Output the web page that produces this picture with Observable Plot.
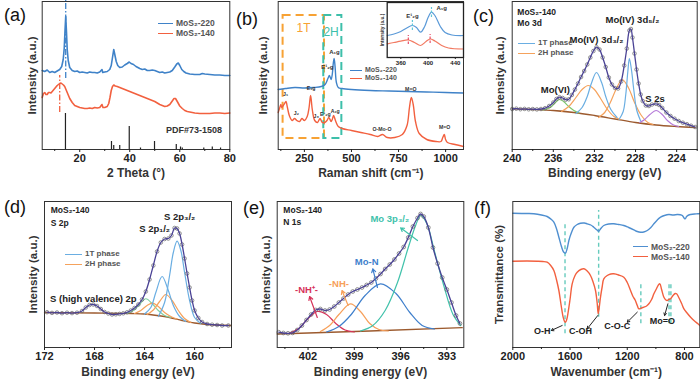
<!DOCTYPE html>
<html><head><meta charset="utf-8">
<script src="https://cdn.jsdelivr.net/npm/d3@7"></script>
<script src="https://cdn.jsdelivr.net/npm/@observablehq/plot@0.6"></script>
<style>
body{margin:0;background:#fff;}
#root{position:relative;width:700px;height:380px;overflow:hidden;font-family:"Liberation Sans",Arial,sans-serif;background:#fff;}
.lab{position:absolute;font-size:18px;line-height:18px;color:#111;}
.leg{position:absolute;font-weight:bold;color:#555;white-space:nowrap;}
.leg div{display:flex;align-items:center;}
.leg i{display:inline-block;height:0;border-top:1.6px solid;margin-right:3px;}
</style></head><body><div id="root"></div><script>
const FONT = '"Liberation Sans", Arial, sans-serif';
const C220 = "#3f82c8", C140 = "#f2603f";
const C1T = "#6aaee2", C2H = "#f5a25c", CENV = "#4a4295", CBG = "#9c5a2e";

// ---------- (a) XRD ----------
const xrd220 = [[5,79],[6,78],[7,79.5],[8,77],[9,78],[10,77],[11,78.5],[12,80],[12.8,83],[13.4,90],[13.8,101],[14.1,118],[14.4,133],[14.7,118],[15,100],[15.4,89],[16,82],[17,79],[18,78],[19,78.5],[20,77],[21,77.5],[22,77],[23,76.5],[24,77.5],[25,77],[26,77],[27,76.5],[28,77.5],[28.9,80],[29.2,77],[30,77.5],[31,78],[32,80],[32.6,84],[33.1,92],[33.6,100],[34.1,94],[34.6,88],[35.2,84],[36,82],[37,82.5],[38,84.5],[39,86],[39.8,87.5],[40.5,86],[41.5,85],[42.5,83],[44,81],[45,80],[46,80.5],[47,79],[48,79],[49,79.5],[50,79],[51,78],[52,77],[53,77.5],[54,76.5],[55,77],[56,77.5],[57,79],[58,82.5],[58.8,85.5],[59.4,86.5],[60,84],[60.8,80],[61.6,78],[62.5,76.5],[64,75.5],[66,75],[68,75],[69,76],[70,75.5],[72,75],[74,74.5],[76,74.5],[78,74],[80,74]];
const xrd140 = [[5,52],[5.5,56],[6,57],[6.5,55],[7,55],[7.5,57],[8,57],[8.5,56.5],[9,58],[9.5,59.5],[10,61],[10.5,62.5],[11,64],[11.5,65],[12,66],[12.5,66.5],[13,65.5],[13.5,64.5],[14,63],[14.5,60],[15,57],[15.5,54],[16,51],[16.5,49],[17,47],[18,44],[19,43],[20,42],[21,41.5],[22,41],[23,41],[24,41.5],[25,41],[26,42],[27,41.5],[28,42],[28.9,45],[29.3,42],[30,42],[31,43],[31.6,46],[32.1,52],[32.6,59],[33.1,63],[33.6,64.5],[34.2,63.5],[35,63],[36,62],[37,61],[38,60],[39,59],[40,58],[41,57],[42,56],[43,55],[44,54],[45,53],[46,52],[47,51],[48,50],[49,49],[50,48],[51,46.5],[52,45],[53,44],[54,43],[55,43.5],[56,45],[57,48.5],[57.7,51],[58.3,51],[59,48],[60,43.5],[61,41],[62,39],[63,38],[64,37.5],[65,37],[66,36.5],[68,36],[70,36],[72,36],[74,36.5],[76,36.5],[78,36],[80,36.5]];
const pdfPos = [14.3,32.7,33.6,36.0,39.8,44.3,49.9,58.6,60.3,61.0,69.6,73.0,76.3];
const pdfInt = [36,8,4,4,23,1.5,8,5,2.5,1.5,1.5,2.5,1.5];
const xrdGuides = [[14.4,71,149,C220],[12,37,74,C140]];
const xrdTicks = [20,40,60,80], xrdMinor = [10,30,50,70];

// ---------- (b) Raman ----------
const raman220 = [[111,58],[150,59],[200,60],[250,59.5],[300,60],[340,61],[360,63],[375,69],[383,72],[392,68],[398,73],[404,85],[408,89],[413,81],[420,65],[430,60],[450,59],[500,58],[600,57],[700,56.5],[800,56],[900,55.5],[1000,55],[1095,54.5]];
const raman140 = [[111,35],[118,39],[125,43],[130,40],[138,42],[145,44],[152,46],[160,40],[170,32],[185,27],[198,29],[210,27],[225,26],[237,29],[250,27],[265,31],[275,40],[283,52],[292,38],[305,27],[320,25],[333,29],[345,25],[358,25],[370,27],[380,30],[392,26],[398,28],[405,32],[415,27],[430,21],[450,19],[500,17],[550,15],[600,13],[640,11],[665,13],[690,10],[730,10],[770,13],[795,22],[808,40],[818,50],[828,43],[840,26],[860,14],[900,8],[950,6],[975,6],[985,10],[993,13],[1000,8],[1010,5],[1050,3],[1095,1]];
const ramanBoxes = [[137,357,9,132,"#f7a234"],[353,449,9,132,"#3dbfaa"]];
const ramanBoxLabels = [[246,119,"1T","#f7a234"],[392,115,"2H","#3dbfaa"]];
const ramanLabels220 = [[372,80,"E¹₂g"],[410,95,"A₁g"]];
const ramanLabels140 = [[150,53,"J₁"],[208,34,"J₂"],[286,59,"E₁g"],[313,31,"J₃"],[361,33,"E¹₂g"],[414,36,"A₁g"],[662,18,"O-Mo-O"],[815,58,"M=O"],[995,20,"M=O"]];
const ramanTicks = [250,500,750,1000], ramanMinor = [125,375,625,875];
// inset
const inset220 = [[340,22],[350,23.5],[360,26],[370,30],[377,32],[383,30],[389,25.3],[395,31],[400,40],[405,45.3],[410,42],[418,31],[425,25],[435,22.5],[452,22]];
const inset140 = [[340,13.7],[350,15],[360,16.3],[371,17.5],[380,15],[389,12],[397,16],[403,18.5],[410,16.5],[420,12],[430,9.5],[452,8.5]];
const insetMarks = [[377,27,37,"#62c6d8"],[405,40,50,"#62c6d8"],[371,13,22,"#e8506a"],[403,14,23,"#e8506a"]];
const insetLabels = [[377,41,"E¹₂g"],[420,49,"A₁g"]];
const insetTicks = [360,400,440];

// ---------- (c) Mo 3d ----------
const mo3dData = [[240,40.5],[239.6,40.8],[239.2,40.3],[238.8,40.6],[238.4,40.2],[238,40.4],[237.6,40.1],[237.2,40.5],[236.8,41.3],[236.4,43.5],[236,47],[235.7,50.5],[235.4,52.3],[235.1,51.5],[234.8,49.8],[234.5,50.2],[234.2,54.5],[233.9,60],[233.6,66],[233.3,72.5],[233,78.5],[232.7,85],[232.4,92],[232.1,98.5],[231.8,102.3],[231.5,100],[231.2,92],[230.9,82.5],[230.6,72],[230.3,65],[230,61.5],[229.7,61],[229.4,68],[229.1,84],[228.85,101],[228.6,119],[228.45,120.5],[228.3,112],[228.1,96],[227.9,80],[227.7,66],[227.5,55],[227.3,48.5],[227,44],[226.7,43.5],[226.4,45],[226,45.7],[225.7,44.5],[225.4,41.5],[225,37],[224.6,33.5],[224.2,30.8],[223.8,28.5],[223.4,26.8],[223,25.3],[222.6,23.8],[222.2,22.5]];
const mo3dBg = [[240,40.7],[238,40],[236,39],[234,37],[232,34],[230,30.5],[228,27],[226,24.5],[224,23],[222.2,22]];
const mo3dVI = [[237,39.5],[236.3,42],[235.8,47],[235.4,50],[235,48],[234.5,43],[234,39],[233.5,36.5]];
const mo3d1Ta = [[233.8,36],[233.2,42],[232.7,53],[232.3,66],[231.8,77],[231.3,67],[230.9,53],[230.4,40],[229.8,32]];
const mo3d2Ha = [[235.2,38],[234.5,43],[233.8,52],[233.2,60],[232.6,64],[232,60],[231.4,51],[230.8,41],[230.1,33],[229.5,30]];
const mo3d1Tb = [[229.6,30],[229.2,38],[228.95,55],[228.75,78],[228.6,91],[228.4,80],[228.15,58],[227.9,40],[227.5,28.5]];
const mo3d2Hb = [[231.6,32],[231,37],[230.5,46],[229.9,60],[229.3,70],[228.7,62],[228.1,47],[227.5,35],[226.8,27],[226.3,25]];
const mo3dS2s = [[227.6,27],[227.1,30],[226.6,35],[226,39],[225.4,35],[224.9,29],[224.3,24.5],[223.8,23]];
const mo3dLabels = [[231.8,110,"Mo(IV) 3d₃/₂"],[228.3,130,"Mo(IV) 3d₅/₂"],[235.8,60,"Mo(VI)"],[226.1,51,"S 2s"]];
const mo3dTitle = [[239.5,137,"MoS₂-140"],[239.5,126,"Mo 3d"]];
const mo3dTicks = [240,236,232,228,224], mo3dMinor = [238,234,230,226,222];

// ---------- (d) S 2p ----------
const s2pData = [[171.8,35.3],[171.4,34.6],[171,35],[170.6,34.3],[170.2,34.8],[169.8,34.4],[169.4,34.8],[169,36.5],[168.7,40],[168.4,42.5],[168.1,43],[167.8,41.5],[167.5,38.5],[167.2,35.5],[166.9,34],[166.6,33],[166.3,33.2],[166,33.6],[165.7,34.2],[165.4,35.2],[165.1,37],[164.8,39.5],[164.5,43],[164.2,48],[163.9,56],[163.6,68],[163.3,82],[163,96],[162.7,105],[162.4,108.5],[162.1,109],[161.85,112],[161.6,119.5],[161.4,119],[161.2,114],[161,103],[160.8,89],[160.6,74],[160.4,60],[160.2,47],[160,37],[159.7,29.5],[159.4,25.5],[159,23.5],[158.6,22.8],[158.2,22.5],[157.8,22],[157.3,22]];
const s2pBg = [[172,35],[168,34.5],[165,34],[164,33.5],[163,32],[162,30],[161,27],[160,24.5],[159,23],[157.1,22]];
const s2pGreen = [[165.4,34],[164.9,37],[164.4,43],[163.9,48.7],[163.4,44],[162.9,37],[162.4,32],[161.9,30]];
const s2p2Ha = [[164.8,34],[164.3,37],[163.8,42],[163.35,44.3],[162.9,41],[162.4,35],[161.9,31],[161.4,28.5]];
const s2p1Ta = [[164,33.5],[163.5,40],[163.1,55],[162.6,71],[162.1,57],[161.7,42],[161.2,31],[160.7,26]];
const s2p2Hb = [[163.8,33],[163.3,37.5],[162.8,46],[162.3,53],[161.8,47],[161.3,37],[160.8,29],[160.3,25]];
const s2p1Tb = [[162.9,31],[162.4,45],[162,72],[161.7,95],[161.4,106.3],[161.1,97],[160.8,75],[160.4,47],[160,30],[159.5,24]];
const s2pLabels = [[163.2,118.7,"S 2p₁/₂"],[161.2,131,"S 2p₃/₂"],[168.1,48.7,"S (high valence) 2p"]];
const s2pTitle = [[171.5,137,"MoS₂-140"],[171.5,124.7,"S 2p"]];
const s2pTicks = [172,168,164,160], s2pMinor = [170,166,162,158];

// ---------- (e) N 1s ----------
const n1sData = [[403.9,15.3],[403.6,14.5],[403.3,14.2],[403,14.6],[402.7,17.5],[402.4,22],[402.1,27.5],[401.8,33],[401.5,37.5],[401.2,38.5],[400.9,37],[400.6,38],[400.3,41],[400,45],[399.7,49],[399.4,53],[399.1,56],[398.8,58],[398.5,60],[398.2,62.5],[397.9,65],[397.6,69],[397.3,73.5],[397,78.5],[396.7,83],[396.4,88],[396.1,94],[395.8,100.5],[395.5,110],[395.2,121],[394.9,129.5],[394.7,133.5],[394.5,131],[394.2,120],[393.9,100],[393.6,84],[393.3,70],[393,58],[392.7,45],[392.4,32],[392.15,24]];
const n1sBg = [[404,13.5],[398,16.5],[392,19.8]];
const n1sNHp = [[403.2,14.5],[402.6,19],[402,29],[401.4,36],[400.8,33],[400.2,24],[399.6,17.5],[399,15.5]];
const n1sNH = [[401.2,16],[400.6,22],[400,33],[399.25,43.7],[398.6,36],[398,24],[397.4,18],[396.8,16.5]];
const n1sMoN = [[400.8,15.5],[400,21],[399.2,33],[398.3,52],[397.3,63.7],[396.3,54],[395.4,35],[394.6,22],[393.8,18.5]];
const n1sMo3p = [[398.6,16.5],[397.8,22],[397,37],[396.2,65],[395.5,100],[395,123],[394.7,132],[394.3,124],[393.8,96],[393.2,62],[392.6,33],[392.1,22]];
const n1sColors = {NHp:"#d6335a", NH:"#f7a05a", MoN:"#3f7fcc", Mo3p:"#41c2ab"};
const n1sLabels = [[402.1,58,"-NH⁺-",n1sColors.NHp],[400,63.7,"-NH-",n1sColors.NH],[398.2,85.3,"Mo-N",n1sColors.MoN],[396.7,128.7,"Mo 3p₃/₂",n1sColors.Mo3p]];
const n1sArrows = [[401.4,30,401.9,51,n1sColors.NHp],[399.4,42,399.8,57,n1sColors.NH],[397.5,60,397.8,78.7,n1sColors.MoN],[394.9,107,396,119.7,n1sColors.Mo3p]];
const n1sTitle = [[403.6,137,"MoS₂-140"],[403.6,125.3,"N 1s"]];
const n1sTicks = [402,399,396,393], n1sMinor = [403.5,400.5,397.5,394.5];

// ---------- (f) FTIR ----------
const ftir220 = [[2000,134.3],[1900,134],[1853,133.7],[1800,132.5],[1760,131],[1730,128],[1713,125.3],[1695,119],[1678,110.3],[1660,101],[1645,95.5],[1632,94.3],[1620,99],[1608,107],[1590,115],[1573,120.3],[1550,123],[1527,124.3],[1500,124.5],[1480,123.7],[1455,122.5],[1434,120.3],[1415,118],[1399,116.3],[1385,119],[1364,122],[1330,123.5],[1294,123.7],[1260,123],[1224,122],[1190,120],[1154,117.7],[1130,116],[1107,115.3],[1085,115.5],[1060,117],[1035,120],[1014,123.7],[990,127.5],[967,130.3],[940,132],[909,133],[880,132.5],[850,133],[830,132.8],[815,132],[803,129.5],[795,128.7],[785,131],[770,132.5],[757,133],[730,133.5],[706,133.7],[693,134]];
const ftir140 = [[2000,86.3],[1900,86.5],[1829,86.3],[1790,86],[1760,85.3],[1735,82],[1713,77],[1695,68],[1678,57],[1662,42],[1648,30.3],[1638,26],[1631,25.3],[1623,28],[1615,33.7],[1600,48],[1585,63.7],[1565,72],[1550,75.3],[1525,78],[1503,78.7],[1480,76.5],[1457,72],[1440,66],[1422,57],[1410,44],[1403,33.7],[1396,40],[1387,50.3],[1375,61],[1364,68.7],[1340,72],[1315,73.5],[1294,73.7],[1260,72.5],[1224,70.3],[1200,65],[1177,57],[1160,51],[1145,47.5],[1130,42],[1119,38.7],[1100,39.5],[1084,40.3],[1065,41.5],[1049,43.7],[1030,48],[1014,53.7],[995,59],[980,63],[972,63.7],[960,58],[944,50.3],[930,47.5],[921,47],[910,48],[897,48.7],[880,52],[865,54],[855,53.7],[840,50],[820,44],[804,38.7],[785,35],[757,30.3],[730,26.5],[706,23.7],[693,22]];
const ftirGuides = [[1635,13.7,125.3],[1400,30.3,137],[1105,23.7,63.7],[908,23.7,63.7],[895,23.7,63.7]];
const ftirLabels = [[1794,16.3,"O-H"],[1527,16.3,"C-OH"],[1270,21,"C-O-C"],[955,26.3,"Mo=O"]];
const ftirArrows = [[1655,22,1731,17],[1406,32,1480,18.7],[1130,35.3,1200,25.3],[916,43.7,939,32]];
const ftirTicks = [2000,1600,1200,800], ftirMinor = [1800,1400,1000];

// ---------- helpers ----------
const root = document.getElementById("root");
const P = a => a.map(([x, y]) => ({x, y}));
const ln = (a, color, w = 1.4, extra = {}) => Plot.line(P(a), {x: "x", y: "y", stroke: color, strokeWidth: w, curve: "catmull-rom", ...extra});
const txt = (a, opts) => Plot.text(a.map(([x, y, t, c]) => ({x, y, t, c})), {x: "x", y: "y", text: "t", fontFamily: FONT, fontWeight: "bold", ...opts});
const yTitle = (t, dx, fs) => Plot.text([t], {text: d => d, frameAnchor: "left", textAnchor: "middle", lineAnchor: "middle", rotate: -90, dx, fontSize: fs, fontWeight: "bold", fill: "#333", fontFamily: FONT});

function panel(o) {
  const [fx0, fx1, fy0, fy1] = o.frame;
  const fig = Plot.plot({
    width: o.w, height: o.h,
    marginLeft: fx0 - o.left, marginRight: o.left + o.w - fx1,
    marginTop: fy0 - o.top, marginBottom: o.top + o.h - fy1,
    x: {domain: o.xd, label: null},
    y: {domain: o.yd, label: null, axis: null},
    style: {background: "none", overflow: "visible", fontFamily: FONT, color: "#222"},
    marks: [
      ...o.marks,
      Plot.frame({stroke: "#333", strokeWidth: 1}),
      o.minor ? Plot.axisX({ticks: o.minor, tickSize: 2, tickFormat: () => "", label: null}) : null,
      Plot.axisX({ticks: o.ticks, tickSize: 3, tickPadding: 2, fontSize: 11, fontWeight: "bold", tickFormat: d => String(d), label: null}),
      Plot.text([o.xLabel], {text: d => d, frameAnchor: "bottom", textAnchor: "middle", lineAnchor: "middle", dy: o.xDy, fontSize: 12, fontWeight: "bold", fill: "#333", fontFamily: FONT}),
      yTitle(o.yLabel, o.yDx, 11.5)
    ].filter(Boolean)
  });
  fig.style.position = "absolute";
  fig.style.left = o.left + "px";
  fig.style.top = o.top + "px";
  root.appendChild(fig);
}
function label(t, left, top) {
  const d = document.createElement("div"); d.className = "lab"; d.textContent = t;
  d.style.left = left + "px"; d.style.top = top + "px"; root.appendChild(d);
}
function legend(items, left, top, fs, lh, sw) {
  const d = document.createElement("div"); d.className = "leg";
  d.style.left = left + "px"; d.style.top = top + "px"; d.style.fontSize = fs + "px"; d.style.lineHeight = lh + "px";
  for (const [name, color] of items) {
    const r = document.createElement("div");
    r.innerHTML = `<i style="width:${sw}px;border-color:${color}"></i>${name}`;
    d.appendChild(r);
  }
  root.appendChild(d);
}

// (a)
panel({left: 0, top: 0, w: 236, h: 186, frame: [41.7, 229.3, 1, 149], xd: [5, 80], yd: [0, 148],
  ticks: xrdTicks, minor: xrdMinor, xLabel: "2 Theta (°)", xDy: 24, yLabel: "Intensity (a.u.)", yDx: -10,
  marks: [
    Plot.ruleX(pdfPos.map((p, i) => ({p, h: pdfInt[i]})), {x: "p", y1: 0, y2: "h", stroke: "#222", strokeWidth: 1.2}),
    Plot.ruleX(xrdGuides.map(([x, y1, y2, c]) => ({x, y1, y2, c})), {x: "x", y1: "y1", y2: "y2", stroke: "c", strokeWidth: 1.3, strokeDasharray: "6,2,1.5,2"}),
    ln(xrd220, C220, 1.6, {curve: "linear"}),
    ln(xrd140, C140, 1.6, {curve: "linear"}),
    txt([[65.7, 19, "PDF#73-1508"]], {fontSize: 9, fill: "#333"})
  ]});

// (b)
panel({left: 236, top: 0, w: 230, h: 186, frame: [277.7, 463, 1, 149], xd: [111, 1095], yd: [-2, 146],
  ticks: ramanTicks, minor: ramanMinor, xLabel: "Raman shift (cm⁻¹)", xDy: 24, yLabel: "Intensity (a.u.)", yDx: -14.7,
  marks: [
    Plot.rect(ramanBoxes.map(([x1, x2, y1, y2, c]) => ({x1, x2, y1, y2, c})), {x1: "x1", x2: "x2", y1: "y1", y2: "y2", fill: "none", stroke: "c", strokeWidth: 2, strokeDasharray: "8,5"}),
    txt(ramanBoxLabels, {fill: "c", fontSize: 12, fontWeight: "normal"}),
    ln(raman220, C220, 1.4),
    ln(raman140, C140, 1.4),
    txt(ramanLabels220, {fontSize: 6, fill: "#333"}),
    txt(ramanLabels140, {fontSize: 5.2, fill: "#333"})
  ]});
// inset
(function () {
  const fig = Plot.plot({
    width: 97, height: 70, marginLeft: 18.7, marginRight: 2, marginTop: 2, marginBottom: 13,
    x: {domain: [340, 452], label: null}, y: {domain: [0, 55], axis: null, label: null},
    style: {background: "none", overflow: "visible", fontFamily: FONT, color: "#222"},
    marks: [
      Plot.frame({fill: "white"}),
      ln(inset220, "#5b9ad8", 1.2),
      ln(inset140, "#f27a62", 1.2),
      Plot.ruleX(insetMarks.map(([x, y1, y2, c]) => ({x, y1, y2, c})), {x: "x", y1: "y1", y2: "y2", stroke: "c", strokeWidth: 1.2, strokeDasharray: "2.5,1.5"}),
      txt(insetLabels, {fontSize: 6, fill: "#333"}),
      Plot.frame({stroke: "#222", strokeWidth: 1.3}),
      Plot.axisX({ticks: insetTicks, tickSize: 2, tickPadding: 1, fontSize: 6, fontWeight: "bold", tickFormat: d => String(d), label: null}),
      yTitle("Intensity (a.u.)", -5, 4.8)
    ]
  });
  fig.style.position = "absolute"; fig.style.left = "368px"; fig.style.top = "0px";
  root.appendChild(fig);
})();

// (c)
panel({left: 466, top: 0, w: 234, h: 186, frame: [511.7, 696.7, 1, 149], xd: [240, 222], yd: [0, 148],
  ticks: mo3dTicks, minor: mo3dMinor, xLabel: "Binding energy (eV)", xDy: 24, yLabel: "Intensity (a.u.)", yDx: -11.7,
  marks: [
    ln(mo3dBg, CBG, 1.3),
    ln(mo3dVI, "#7cc66b", 1.1),
    ln(mo3d2Ha, C2H, 1.2), ln(mo3d2Hb, C2H, 1.2),
    ln(mo3d1Ta, C1T, 1.2), ln(mo3d1Tb, C1T, 1.2),
    ln(mo3dS2s, "#b57ad8", 1.1),
    Plot.dot(P(mo3dData), {x: "x", y: "y", r: 1.8, stroke: "#666", fill: "none", strokeWidth: 0.7}),
    ln(mo3dData, CENV, 1.3),
    txt(mo3dLabels, {fontSize: 9.5, fill: "#222"}),
    txt(mo3dTitle, {fontSize: 8.5, fill: "#222", textAnchor: "start"})
  ]});

// (d)
panel({left: 0, top: 188, w: 236, h: 192, frame: [44, 231, 201, 347], xd: [172, 157.05], yd: [0, 146],
  ticks: s2pTicks, minor: s2pMinor, xLabel: "Binding energy (eV)", xDy: 25, yLabel: "Intensity (a.u.)", yDx: -10.7,
  marks: [
    ln(s2pBg, CBG, 1.3),
    ln(s2pGreen, "#7fd0a0", 1.1),
    ln(s2p2Ha, C2H, 1.2), ln(s2p2Hb, C2H, 1.2),
    ln(s2p1Ta, C1T, 1.2), ln(s2p1Tb, C1T, 1.2),
    Plot.dot(P(s2pData), {x: "x", y: "y", r: 1.8, stroke: "#666", fill: "none", strokeWidth: 0.7}),
    ln(s2pData, CENV, 1.3),
    txt(s2pLabels, {fontSize: 9.5, fill: "#222"}),
    txt(s2pTitle, {fontSize: 8.5, fill: "#222", textAnchor: "start"})
  ]});

// (e)
panel({left: 236, top: 188, w: 230, h: 192, frame: [276.7, 463.3, 201, 347], xd: [404, 391.9], yd: [0, 146],
  ticks: n1sTicks, minor: n1sMinor, xLabel: "Binding energy (eV)", xDy: 25, yLabel: "Intensity (a.u.)", yDx: -10.7,
  marks: [
    ln(n1sBg, CBG, 1.3, {curve: "linear"}),
    ln(n1sNHp, n1sColors.NHp, 1.2), ln(n1sNH, n1sColors.NH, 1.2),
    ln(n1sMoN, n1sColors.MoN, 1.2), ln(n1sMo3p, n1sColors.Mo3p, 1.2),
    Plot.dot(P(n1sData), {x: "x", y: "y", r: 1.9, stroke: "#666", fill: "none", strokeWidth: 0.7}),
    ln(n1sData, CENV, 1.3),
    Plot.arrow(n1sArrows.map(([x1, y1, x2, y2, c]) => ({x1, y1, x2, y2, c})), {x1: "x1", y1: "y1", x2: "x2", y2: "y2", stroke: "c", strokeWidth: 1.2, headLength: 5}),
    txt(n1sLabels, {fontSize: 9.5, fill: "c"}),
    txt(n1sTitle, {fontSize: 8.5, fill: "#222", textAnchor: "start"})
  ]});

// (f)
panel({left: 466, top: 188, w: 234, h: 192, frame: [512.3, 699.3, 201, 347], xd: [2000, 693], yd: [0, 146],
  ticks: ftirTicks, minor: ftirMinor, xLabel: "Wavenumber (cm⁻¹)", xDy: 25, yLabel: "Transmittance (%)", yDx: -13,
  marks: [
    Plot.ruleX(ftirGuides.map(([x, y1, y2]) => ({x, y1, y2})), {x: "x", y1: "y1", y2: "y2", stroke: "#66cbbd", strokeWidth: 1.4, strokeDasharray: "4,3"}),
    ln(ftir220, "#4f8fd0", 1.4),
    ln(ftir140, C140, 1.4),
    Plot.arrow(ftirArrows.map(([x1, y1, x2, y2]) => ({x1, y1, x2, y2})), {x1: "x1", y1: "y1", x2: "x2", y2: "y2", stroke: "#222", strokeWidth: 1, headLength: 4}),
    txt(ftirLabels, {fontSize: 9, fill: "#222"})
  ]});

// panel labels
label("(a)", 4, 6); label("(b)", 236, 10); label("(c)", 473, 7);
label("(d)", 4, 198); label("(e)", 243, 199); label("(f)", 474, 199);
// legends
legend([["MoS₂-220", C220], ["MoS₂-140", C140]], 158, 18, 8.5, 10, 15);
legend([["MoS₂-220", C220], ["MoS₂-140", C140]], 350, 66, 7, 8, 12);
legend([["1T phase", C1T], ["2H phase", C2H]], 518, 38.3, 8, 10, 17);
legend([["1T phase", C1T], ["2H phase", C2H]], 65, 249, 8, 10, 17);
legend([["MoS₂-220", "#4f8fd0"], ["MoS₂-140", C140]], 633, 241.7, 8.5, 10, 15);
</script></body></html>
